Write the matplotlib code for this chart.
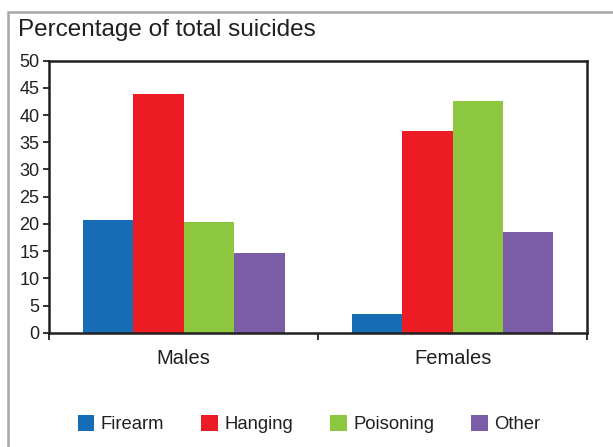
import numpy as np
import matplotlib.pyplot as plt
from matplotlib.patches import Rectangle

plt.rcParams['font.family'] = ['Liberation Sans', 'DejaVu Sans']

groups = ['Males', 'Females']
methods = ['Firearm', 'Hanging', 'Poisoning', 'Other']
values = {
    'Firearm': [20.7, 3.4],
    'Hanging': [43.9, 37.1],
    'Poisoning': [20.3, 42.6],
    'Other': [14.6, 18.5],
}
colors = ['#176cb6', '#ed1c24', '#8dc63f', '#7b5ca6']
yticks = np.arange(0, 51, 5)

ink = '#231f20'
fig = plt.figure(figsize=(6.13, 4.47), dpi=100)
# grey frame round the chart
fig.patches.append(Rectangle((8 / 613, -0.1), 1.2, (447 - 12) / 447 + 0.1,
                             transform=fig.transFigure, fill=False,
                             edgecolor='#a6a6a6', linewidth=1.8))
ax = fig.add_axes([49.3 / 613, (447 - 332.7) / 447, (587 - 49.3) / 613, (332.7 - 60.7) / 447])

x = np.arange(len(groups))
w = 0.1875
for i, (m, c) in enumerate(zip(methods, colors)):
    ax.bar(x + (i - 1.5) * w, values[m], w, color=c, label=m)

ax.set_xlim(-0.5, 1.5)
ax.set_ylim(0, 50)
ax.set_yticks(yticks)
ax.set_yticklabels([str(v) for v in yticks], fontsize=13, color=ink)
ax.set_xticks(x)
ax.set_xticklabels(groups, fontsize=14.5, color=ink)
ax.tick_params(axis='x', length=0, pad=12)
ax.set_xticks([-0.5, 0.5, 1.5], minor=True)
ax.tick_params(axis='x', which='minor', length=5, width=1.3, color=ink, direction='out')
ax.tick_params(axis='y', length=4, width=1.3, color=ink, pad=3)
for s in ax.spines.values():
    s.set_linewidth(1.8)
    s.set_color(ink)

fig.text(18 / 613, (447 - 36) / 447, 'Percentage of total suicides', fontsize=17.5,
         color=ink, va='baseline', ha='left')

fig.legend(loc='center', bbox_to_anchor=(0.504, 0.051), ncol=4, frameon=False,
           fontsize=13.3, handlelength=0.9, handleheight=0.9, handletextpad=0.35,
           columnspacing=2.0, labelcolor=ink)

fig.savefig('out.png', dpi=100)
